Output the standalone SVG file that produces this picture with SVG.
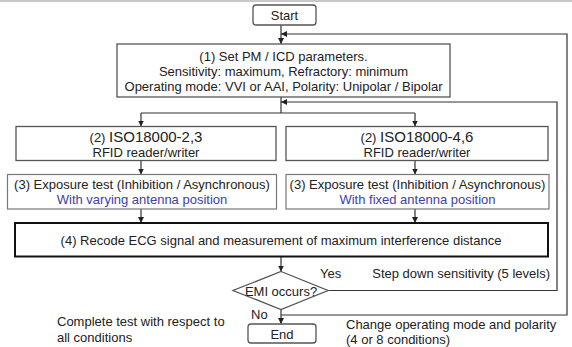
<svg xmlns="http://www.w3.org/2000/svg" width="572" height="347" viewBox="0 0 572 347">
<defs>
<marker id="ah" viewBox="0 0 8 8" refX="8" refY="4" markerWidth="6" markerHeight="6" orient="auto" markerUnits="userSpaceOnUse">
<path d="M0,0 L8,4 L0,8 z" fill="#222"/>
</marker>
<style>
text{font-family:"Liberation Sans",Arial,sans-serif;font-size:13px;fill:#222}
.c{text-anchor:middle}
.blue{fill:#4040a8}
.big{font-size:15px}
.box{fill:#fff;stroke:#555;stroke-width:1.3}
.lbox{fill:#fff;stroke:#777;stroke-width:1.2}
.bold{fill:#fff;stroke:#111;stroke-width:2}
.ln{fill:none;stroke:#333;stroke-width:1.2}
.ar{fill:none;stroke:#333;stroke-width:1.2;marker-end:url(#ah)}
</style>
</defs>
<rect x="0" y="0" width="572" height="347" fill="#fff"/>
<rect x="0" y="0" width="572" height="2" fill="#c8c8c8"/>

<g id="connectors">
<line class="ar" x1="281" y1="25" x2="281" y2="44"/>
<polyline class="ln" points="281,97 281,113"/>
<polyline class="ln" points="141,113 415,113"/>
<line class="ar" x1="141" y1="113" x2="141" y2="126.5"/>
<line class="ar" x1="415" y1="113" x2="415" y2="126.5"/>
<line class="ar" x1="141" y1="160.5" x2="141" y2="174.5"/>
<line class="ar" x1="415" y1="160.5" x2="415" y2="174.5"/>
<line class="ar" x1="141" y1="209" x2="141" y2="223"/>
<line class="ar" x1="415" y1="209" x2="415" y2="223"/>
<line class="ar" x1="281" y1="256.5" x2="281" y2="271.5"/>
<line class="ar" x1="281" y1="309.5" x2="281" y2="324"/>
<polyline class="ar" points="328,290.5 557,290.5 557,102 281,102"/>
<polyline class="ar" points="281,315 567,315 567,34 281,34"/>
</g>

<g id="start">
<rect class="box" x="253" y="5" width="63" height="20" rx="3"/>
<text class="c" x="284.5" y="20">Start</text>
</g>

<g id="set-params">
<rect class="box" x="117" y="44" width="333" height="53"/>
<text class="c" x="283.5" y="61">(1) Set PM / ICD parameters.</text>
<text class="c" x="283.5" y="76">Sensitivity: maximum, Refractory: minimum</text>
<text class="c" x="283.5" y="91">Operating mode: VVI or AAI, Polarity: Unipolar / Bipolar</text>
</g>

<g id="iso-23">
<rect class="box" x="16" y="126.5" width="260" height="34"/>
<text class="c" x="146" y="142">(2) <tspan class="big">ISO18000-2,3</tspan></text>
<text class="c" x="146" y="157">RFID reader/writer</text>
</g>

<g id="iso-46">
<rect class="box" x="286" y="126.5" width="262" height="34"/>
<text class="c" x="417" y="142">(2) <tspan class="big">ISO18000-4,6</tspan></text>
<text class="c" x="417" y="157">RFID reader/writer</text>
</g>

<g id="exposure-left">
<rect class="lbox" x="7.5" y="174.5" width="269" height="34.5"/>
<text class="c" x="142" y="189">(3) Exposure test (Inhibition / Asynchronous)</text>
<text class="c blue" x="142" y="204">With varying antenna position</text>
</g>

<g id="exposure-right">
<rect class="lbox" x="286" y="174.5" width="263" height="34.5"/>
<text class="c" x="417.5" y="189">(3) Exposure test (Inhibition / Asynchronous)</text>
<text class="c blue" x="417.5" y="204">With fixed antenna position</text>
</g>

<g id="record">
<rect class="bold" x="15" y="223" width="533" height="33.5"/>
<text class="c" x="281" y="244.5">(4) Recode ECG signal and measurement of maximum interference distance</text>
</g>

<g id="emi">
<polygon class="box" points="281,271.5 328,290.5 281,309.5 233,290.5"/>
<text class="c" x="281" y="295.5">EMI occurs?</text>
</g>

<g id="end">
<rect class="box" x="248" y="324" width="68" height="19" rx="3"/>
<text class="c" x="282" y="338.5">End</text>
</g>

<g id="labels">
<text x="320" y="277.5">Yes</text>
<text x="251" y="318.5">No</text>
<text x="550" y="278" text-anchor="end">Step down sensitivity (5 levels)</text>
<text x="57" y="326">Complete test with respect to</text>
<text x="57" y="342">all conditions</text>
<text x="346" y="329">Change operating mode and polarity</text>
<text x="346" y="344">(4 or 8 conditions)</text>
</g>
</svg>
